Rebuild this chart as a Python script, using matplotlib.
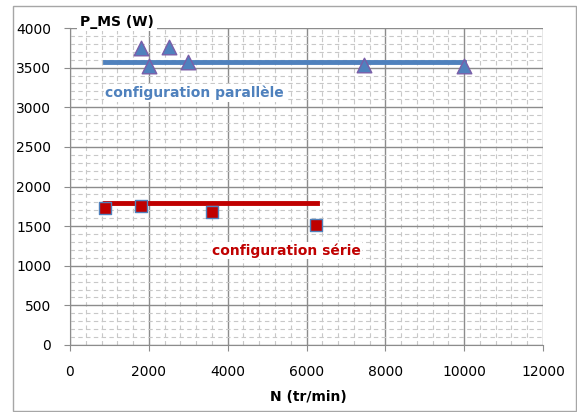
import matplotlib.pyplot as plt
from matplotlib.ticker import MultipleLocator
from matplotlib.patches import Rectangle

plt.rcParams['font.family'] = ['DejaVu Sans']

# configuration parallele
par_n = [1800, 2000, 2500, 3000, 7450, 10000]
par_p = [3750, 3520, 3760, 3565, 3530, 3515]
par_fit_n = [880, 10000]
par_fit_p = [3575, 3575]

# configuration serie
ser_n = [900, 1800, 3600, 6250]
ser_p = [1730, 1750, 1680, 1510]
ser_fit_n = [900, 6260]
ser_fit_p = [1790, 1790]

x_ticks = [0, 2000, 4000, 6000, 8000, 10000, 12000]
y_ticks = [0, 500, 1000, 1500, 2000, 2500, 3000, 3500, 4000]

fig = plt.figure(figsize=(5.77, 4.12), dpi=100)
ax = fig.add_axes([70 / 577, 1 - 345 / 412, 473 / 577, 317 / 412])

# outer frame of the chart
fig.patches.append(Rectangle((13 / 577, 1 / 412), 563 / 577, 405 / 412,
                             transform=fig.transFigure, fill=False,
                             edgecolor='#a6a6a6', linewidth=1))

ax.set_xlim(0, 12000)
ax.set_ylim(0, 4000)
ax.set_xticks(x_ticks)
ax.set_yticks(y_ticks)
ax.xaxis.set_minor_locator(MultipleLocator(400))
ax.yaxis.set_minor_locator(MultipleLocator(100))
ax.grid(which='major', color='#8c8c8c', linewidth=1)
ax.grid(which='minor', color='#c8c8c8', linewidth=0.8, linestyle=(0, (4, 3)))
ax.set_axisbelow(True)
ax.tick_params(which='major', length=4.5, color='#8c8c8c', labelsize=10)
ax.tick_params(which='minor', length=0)
ax.tick_params(axis='x', pad=10)
ax.tick_params(axis='y', pad=9)
for s in ['top', 'right']:
    ax.spines[s].set_visible(False)
for s in ['left', 'bottom']:
    ax.spines[s].set_color('#8c8c8c')

ax.plot(par_fit_n, par_fit_p, color='#4f81bd', linewidth=3.5, zorder=3)
ax.plot(ser_fit_n, ser_fit_p, color='#c00000', linewidth=3.5, zorder=3)
ax.scatter(par_n, par_p, marker='^', s=110, color='#4f81bd',
           edgecolors='#7a5ea8', linewidths=1, zorder=4)
ax.scatter(ser_n, ser_p, marker='s', s=80, color='#c00000',
           edgecolors='#4f81bd', linewidths=1, zorder=4)

ax.text(900, 3180, 'configuration parallèle', color='#4f81bd',
        fontsize=10, fontweight='bold', va='center', ha='left',
        bbox=dict(facecolor='white', edgecolor='none', pad=1), zorder=5)
ax.text(3600, 1190, 'configuration série', color='#c00000',
        fontsize=10, fontweight='bold', va='center', ha='left',
        bbox=dict(facecolor='white', edgecolor='none', pad=1), zorder=5)
ax.text(250, 4080, 'P_MS (W)', color='black', fontsize=10,
        fontweight='bold', va='center', ha='left',
        bbox=dict(facecolor='white', edgecolor='none', pad=2), zorder=5)
fig.text(308 / 577, 1 - 397 / 412, 'N (tr/min)', fontsize=10,
         fontweight='bold', ha='center', va='center')

fig.savefig('out.png', dpi=100)
